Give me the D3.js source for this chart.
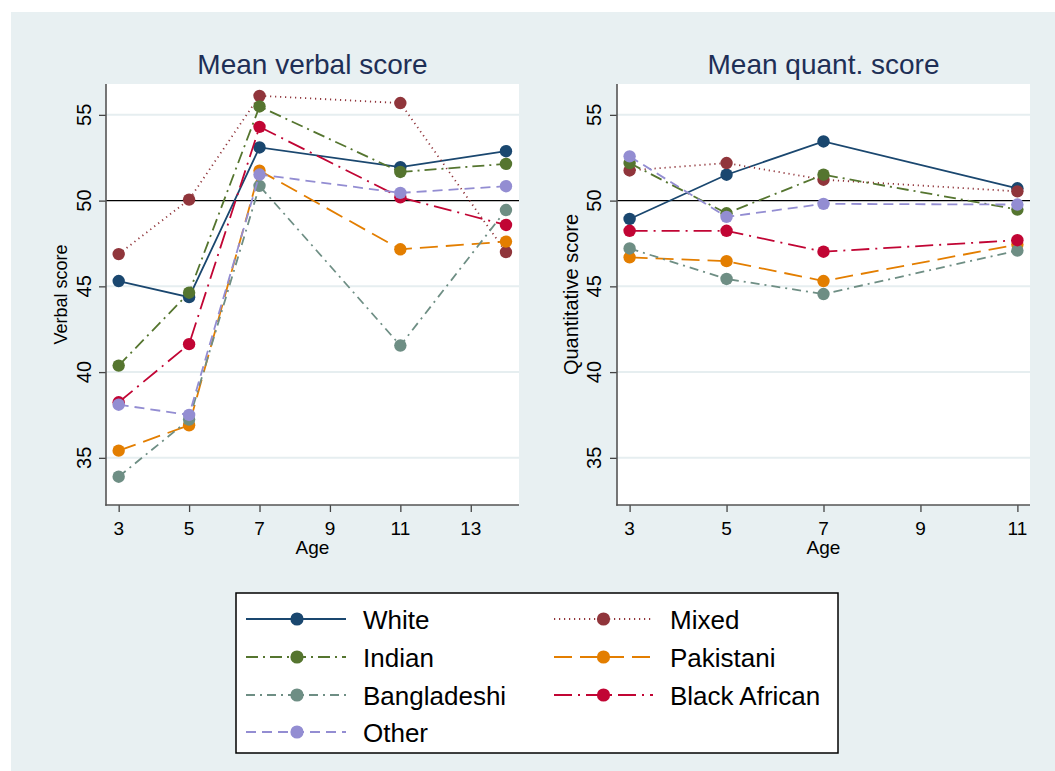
<!DOCTYPE html>
<html>
<head>
<meta charset="utf-8">
<script src="https://cdn.jsdelivr.net/npm/d3@7"></script>
<style>
  html, body { margin: 0; padding: 0; background: #ffffff; }
  svg { display: block; font-family: "Liberation Sans", Arial, sans-serif; }
</style>
</head>
<body>
<svg id="chart" width="1055" height="771"></svg>
<script>
// Ethnic groups, in legend / drawing order
const groups = ["White", "Mixed", "Indian", "Pakistani", "Bangladeshi", "Black African", "Other"];

// Survey ages for each measure
const agesVerbal = [3, 5, 7, 11, 14];
const agesQuant = [3, 5, 7, 11];

// Mean verbal scores by group (rows follow `groups`, columns follow `agesVerbal`)
const verbalWhite = [45.31, 44.37, 53.10, 51.95, 52.88];
const verbalMixed = [46.88, 50.06, 56.11, 55.69, 47.00];
const verbalIndian = [40.38, 44.63, 55.49, 51.67, 52.14];
const verbalPakistani = [35.42, 36.90, 51.75, 47.16, 47.61];
const verbalBangladeshi = [33.90, 37.23, 50.86, 41.55, 49.45];
const verbalBlackAfrican = [38.24, 41.63, 54.30, 50.19, 48.58];
const verbalOther = [38.10, 37.50, 51.52, 50.45, 50.84];

// Mean quantitative scores by group (columns follow `agesQuant`)
const quantWhite = [48.93, 51.51, 53.45, 50.72];
const quantMixed = [51.76, 52.19, 51.22, 50.54];
const quantIndian = [52.19, 49.26, 51.51, 49.48];
const quantPakistani = [46.69, 46.47, 45.31, 47.44];
const quantBangladeshi = [47.21, 45.43, 44.55, 47.09];
const quantBlackAfrican = [48.24, 48.24, 47.02, 47.69];
const quantOther = [52.58, 49.05, 49.81, 49.77];

// Axis ticks
const yTicks = [35, 40, 45, 50, 55];
const xTicksVerbal = [3, 5, 7, 9, 11, 13];
const xTicksQuant = [3, 5, 7, 9, 11];
const referenceLine = 50;

const verbalSeries = [verbalWhite, verbalMixed, verbalIndian, verbalPakistani, verbalBangladeshi, verbalBlackAfrican, verbalOther];
const quantSeries = [quantWhite, quantMixed, quantIndian, quantPakistani, quantBangladeshi, quantBlackAfrican, quantOther];

// Stata s2color-style palette and line patterns per group
const colors = ["#1a476f", "#90353b", "#55752f", "#e37e00", "#6e8e84", "#c10534", "#938dd2"];
const dashes = ["none", "1.2,3.8", "12,5,2,5", "18,8", "9,5,2,5", "18,6,2,6", "10,6"];

const svg = d3.select("#chart");
const bg = "#e8f0f2";

// Graph region background (leaves a thin white margin top/left)
svg.append("rect").attr("x", 11).attr("y", 12).attr("width", 1055 - 11).attr("height", 771 - 12).attr("fill", bg);

function panel(opts) {
  const { left, right, top, bottom, xDomain, ages, series, xTicks, title, yTitle, yTitleSize, yTitleX, yLabelX } = opts;
  const x = d3.scaleLinear().domain(xDomain).range([left, right]);
  const y = d3.scaleLinear().domain([32.25, 56.8]).range([bottom, top]);
  const g = svg.append("g");

  // plot region
  g.append("rect").attr("x", left).attr("y", top).attr("width", right - left).attr("height", bottom - top).attr("fill", "#ffffff");

  // gridlines
  g.selectAll(".grid").data(yTicks.filter(t => t !== referenceLine)).join("line")
    .attr("x1", left).attr("x2", right)
    .attr("y1", d => y(d)).attr("y2", d => y(d))
    .attr("stroke", "#e6eef0").attr("stroke-width", 2);

  // reference line at 50
  g.append("line").attr("x1", left).attr("x2", right)
    .attr("y1", y(referenceLine)).attr("y2", y(referenceLine))
    .attr("stroke", "#000000").attr("stroke-width", 1.3);

  // axes
  const yAxis = d3.axisLeft(y).tickValues(yTicks).tickSize(7).tickFormat("");
  const yg = g.append("g").attr("transform", `translate(${left},0)`).call(yAxis);
  const xAxis = d3.axisBottom(x).tickValues(xTicks).tickSize(7).tickFormat("");
  const xg = g.append("g").attr("transform", `translate(0,${bottom})`).call(xAxis);
  [yg, xg].forEach(a => {
    a.select(".domain").remove();
    a.selectAll(".tick line").attr("stroke", "#444").attr("stroke-width", 1.3);
  });
  g.append("line").attr("x1", left).attr("x2", left).attr("y1", top).attr("y2", bottom + 0.7)
    .attr("stroke", "#555").attr("stroke-width", 1.6);
  g.append("line").attr("x1", left - 0.7).attr("x2", right).attr("y1", bottom).attr("y2", bottom)
    .attr("stroke", "#555").attr("stroke-width", 1.6);

  // tick labels
  g.selectAll(".ylab").data(yTicks).join("text")
    .attr("transform", d => `translate(${yLabelX},${y(d)}) rotate(-90)`)
    .attr("text-anchor", "middle").attr("font-size", 20).attr("fill", "#000")
    .text(d => d);
  g.selectAll(".xlab").data(xTicks).join("text")
    .attr("x", d => x(d)).attr("y", 535)
    .attr("text-anchor", "middle").attr("font-size", 19).attr("fill", "#000")
    .text(d => d);

  // axis titles
  g.append("text").attr("x", (left + right) / 2).attr("y", 554)
    .attr("text-anchor", "middle").attr("font-size", 19).attr("fill", "#000").text("Age");
  g.append("text").attr("transform", `translate(${yTitleX},${(top + bottom) / 2}) rotate(-90)`)
    .attr("text-anchor", "middle").attr("font-size", yTitleSize).attr("fill", "#000").text(yTitle);

  // panel title
  g.append("text").attr("x", (left + right) / 2).attr("y", 74)
    .attr("text-anchor", "middle").attr("font-size", 28).attr("fill", "#1e2f56").text(title);

  // series: line then markers
  const line = d3.line().x(d => x(d[0])).y(d => y(d[1]));
  series.forEach((vals, i) => {
    const pts = ages.map((a, j) => [a, vals[j]]);
    g.append("path").attr("d", line(pts)).attr("fill", "none")
      .attr("stroke", colors[i]).attr("stroke-width", 1.8)
      .attr("stroke-dasharray", dashes[i]);
    g.selectAll(null).data(pts).join("circle")
      .attr("cx", d => x(d[0])).attr("cy", d => y(d[1])).attr("r", 6.2)
      .attr("fill", colors[i]);
  });
}

panel({
  left: 106, right: 519, top: 84, bottom: 505,
  xDomain: [2.64, 14.37], ages: agesVerbal, series: verbalSeries, xTicks: xTicksVerbal,
  title: "Mean verbal score", yTitle: "Verbal score", yTitleSize: 18, yTitleX: 67, yLabelX: 91
});
panel({
  left: 617, right: 1030, top: 84, bottom: 505,
  xDomain: [2.74, 11.26], ages: agesQuant, series: quantSeries, xTicks: xTicksQuant,
  title: "Mean quant. score", yTitle: "Quantitative score", yTitleSize: 20, yTitleX: 578, yLabelX: 601
});

// Legend
const lg = svg.append("g");
lg.append("rect").attr("x", 236).attr("y", 593).attr("width", 602).attr("height", 160)
  .attr("fill", "#ffffff").attr("stroke", "#000").attr("stroke-width", 1.5);
const colLine = [[246, 346, 297, 363], [554, 653, 603.5, 670]];
const rowY = [619, 657, 695, 732];
groups.forEach((name, i) => {
  const c = colLine[i % 2];
  const yy = rowY[Math.floor(i / 2)];
  lg.append("line").attr("x1", c[0]).attr("x2", c[1]).attr("y1", yy).attr("y2", yy)
    .attr("stroke", colors[i]).attr("stroke-width", 1.8).attr("stroke-dasharray", dashes[i]);
  lg.append("circle").attr("cx", c[2]).attr("cy", yy).attr("r", 6.6).attr("fill", colors[i]);
  lg.append("text").attr("x", c[3]).attr("y", yy + 9.5).attr("font-size", 26).attr("fill", "#000").text(name);
});
</script>
</body>
</html>
